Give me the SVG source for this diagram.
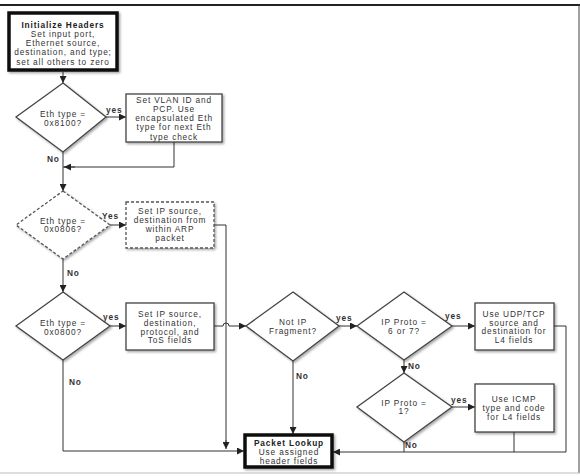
<svg xmlns="http://www.w3.org/2000/svg" width="580" height="476" viewBox="0 0 580 476">
<defs>
<marker id="ah" viewBox="0 0 8 8" refX="8" refY="4" markerWidth="7" markerHeight="7" markerUnits="userSpaceOnUse" orient="auto"><path d="M0,0 L8,4 L0,8 z" fill="#222"/></marker>
<filter id="sh" x="-10%" y="-10%" width="130%" height="130%"><feDropShadow dx="1.5" dy="1.5" stdDeviation="1" flood-color="#000" flood-opacity="0.35"/></filter>
</defs>
<style>
text{font-family:"Liberation Sans",Arial,sans-serif;font-size:8.3px;letter-spacing:0.85px;fill:#333;text-anchor:middle}
.b{font-weight:bold;fill:#222}
.lb{font-weight:bold;fill:#333;text-anchor:start}
.box{fill:#fff;stroke:#444;stroke-width:1.3;filter:url(#sh)}
.dbox{fill:#fff;stroke:#555;stroke-width:1.3;stroke-dasharray:3,2;filter:url(#sh)}
.tbox{fill:#fff;stroke:#111;stroke-width:3.5;filter:url(#sh)}
.dia{fill:#fff;stroke:#444;stroke-width:1.3;filter:url(#sh)}
.ddia{fill:#fff;stroke:#555;stroke-width:1.3;stroke-dasharray:3,2;filter:url(#sh)}
.c{fill:none;stroke:#333;stroke-width:1}
.ca{fill:none;stroke:#333;stroke-width:1;marker-end:url(#ah)}
</style>
<rect width="580" height="476" fill="#fff"/>
<g id="frame">
<line x1="0" y1="5" x2="580" y2="5" stroke="#222" stroke-width="2"/>
<line x1="579" y1="5" x2="579" y2="473" stroke="#444" stroke-width="1"/>
<line x1="0" y1="473" x2="580" y2="473" stroke="#bbb" stroke-width="1"/>
</g>
<g id="connectors">
<path class="ca" d="M63,72 V83"/>
<path class="ca" d="M106,117 H126"/>
<path class="c" d="M174,142 V167 H63"/>
<path class="ca" d="M75,167 H64"/>
<path class="ca" d="M63,152 V191"/>
<path class="ca" d="M110,225 H126"/>
<path class="c" d="M214,225 H226 V447"/>
<path class="ca" d="M226,440 V449"/>
<path class="ca" d="M63,259 V292"/>
<path class="ca" d="M110,326 H126"/>
<path class="ca" d="M214,326 H223 A3,3 0 0 1 229,326 H246"/>
<path class="ca" d="M63,360 V451 H244"/>
<path class="ca" d="M293,361 V434"/>
<path class="ca" d="M339,326 H357"/>
<path class="ca" d="M452,326 H475"/>
<path class="ca" d="M404,360 V373"/>
<path class="ca" d="M452,407 H475"/>
<path class="c" d="M554,326 H566 V452 H404 V442"/>
<path class="c" d="M514,432 V452"/>
<path class="ca" d="M404,452 H333"/>
</g>
<g id="labels">
<text class="lb" x="106" y="113">yes</text>
<text class="lb" x="47" y="161.5">No</text>
<text class="lb" x="102" y="218.5">Yes</text>
<text class="lb" x="67" y="275.5">No</text>
<text class="lb" x="103" y="319.5">yes</text>
<text class="lb" x="69" y="384.5">No</text>
<text class="lb" x="336" y="320.5">yes</text>
<text class="lb" x="296" y="378.5">No</text>
<text class="lb" x="445" y="318.5">yes</text>
<text class="lb" x="408" y="368.5">No</text>
<text class="lb" x="451" y="402.5">yes</text>
<text class="lb" x="405" y="447.5">No</text>
</g>
<g id="init">
<rect class="tbox" x="9" y="13" width="108" height="57"/>
<text class="b" x="63" y="27.5">Initialize Headers</text>
<text x="63" y="37">Set input port,</text>
<text x="63" y="46">Ethernet source,</text>
<text x="63" y="55">destination, and type;</text>
<text x="63" y="64.5">set all others to zero</text>
</g>
<g id="d8100">
<polygon class="dia" points="63,83 106,117 63,152 16,117"/>
<text x="63" y="116.5">Eth type =</text>
<text x="63" y="125.5">0x8100?</text>
</g>
<g id="vlan">
<rect class="box" x="126" y="94" width="96" height="48"/>
<text x="174" y="102.5">Set VLAN ID and</text>
<text x="174" y="112">PCP. Use</text>
<text x="174" y="121">encapsulated Eth</text>
<text x="174" y="130">type for next Eth</text>
<text x="174" y="139.5">type check</text>
</g>
<g id="d0806">
<polygon class="ddia" points="63,191 110,225 63,259 16,225"/>
<text x="63" y="223.5">Eth type =</text>
<text x="63" y="232">0x0806?</text>
</g>
<g id="arp">
<rect class="dbox" x="126" y="202" width="88" height="46"/>
<text x="170" y="213.5">Set IP source,</text>
<text x="170" y="223">destination from</text>
<text x="170" y="231.5">within ARP</text>
<text x="170" y="240.5">packet</text>
</g>
<g id="d0800">
<polygon class="dia" points="63,292 110,326 63,360 16,326"/>
<text x="63" y="325.5">Eth type =</text>
<text x="63" y="334.5">0x0800?</text>
</g>
<g id="ipset">
<rect class="box" x="126" y="303" width="88" height="47"/>
<text x="170" y="316.5">Set IP source,</text>
<text x="170" y="325.5">destination,</text>
<text x="170" y="334.5">protocol, and</text>
<text x="170" y="343">ToS fields</text>
</g>
<g id="frag">
<polygon class="dia" points="293,292 339,326 293,361 246,326"/>
<text x="293" y="324.5">Not IP</text>
<text x="293" y="333.5">Fragment?</text>
</g>
<g id="proto67">
<polygon class="dia" points="404,292 452,326 404,360 357,326"/>
<text x="404" y="325">IP Proto =</text>
<text x="404" y="334">6 or 7?</text>
</g>
<g id="udptcp">
<rect class="box" x="475" y="303" width="79" height="47"/>
<text x="514" y="316.5">Use UDP/TCP</text>
<text x="514" y="325.5">source and</text>
<text x="514" y="334">destination for</text>
<text x="514" y="342.5">L4 fields</text>
</g>
<g id="proto1">
<polygon class="dia" points="404,373 452,407 404,442 357,407"/>
<text x="404" y="405.5">IP Proto =</text>
<text x="404" y="414">1?</text>
</g>
<g id="icmp">
<rect class="box" x="475" y="384" width="79" height="48"/>
<text x="514" y="401.5">Use ICMP</text>
<text x="514" y="410.5">type and code</text>
<text x="514" y="420">for L4 fields</text>
</g>
<g id="lookup">
<rect class="tbox" x="245" y="435" width="87" height="32"/>
<text class="b" x="289" y="445.5">Packet Lookup</text>
<text x="289" y="454.5">Use assigned</text>
<text x="289" y="463.5">header fields</text>
</g>
</svg>
